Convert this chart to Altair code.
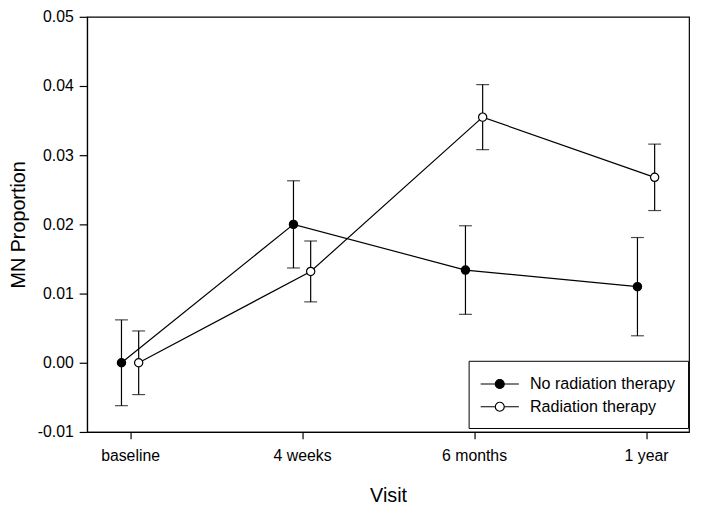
import altair as alt
import pandas as pd

visits = ["baseline", "4 weeks", "6 months", "1 year"]
series_names = ["No radiation therapy", "Radiation therapy"]
no_rt_mean = [0.0, 0.0200, 0.0134, 0.0110]
no_rt_err = [0.0062, 0.0063, 0.0064, 0.0071]
rt_mean = [0.0, 0.0132, 0.0355, 0.0268]
rt_err = [0.0046, 0.0044, 0.0047, 0.0048]
y_ticks = [-0.01, 0.0, 0.01, 0.02, 0.03, 0.04, 0.05]
dodge = [-0.05, 0.05]

rows = []
for s, (name, means, errs) in enumerate(
    [(series_names[0], no_rt_mean, no_rt_err), (series_names[1], rt_mean, rt_err)]
):
    for i, v in enumerate(visits):
        rows.append({
            "series": name,
            "visit": v,
            "x": i + dodge[s],
            "mean": means[i],
            "lo": means[i] - errs[i],
            "hi": means[i] + errs[i],
        })
df = pd.DataFrame(rows)

FONT = "Liberation Sans"
label_arr = "[" + ",".join("'" + v + "'" for v in visits) + "]"

xenc = alt.X(
    "x:Q",
    scale=alt.Scale(domain=[-0.25, 3.25], nice=False, zero=False),
    axis=alt.Axis(
        values=list(range(len(visits))),
        labelExpr=label_arr + "[round(datum.value)]",
        title="Visit",
        grid=False,
        tickSize=7,
        labelPadding=9,
        labelFontSize=16,
        titleFontSize=20,
        titleFontWeight="normal",
        titlePadding=22,
    ),
)
yscale = alt.Scale(domain=[-0.01, 0.05], nice=False, zero=False)
yaxis = alt.Axis(
    values=y_ticks,
    labelExpr="replace(format(datum.value, '.2f'), '\u2212', '-')",
    title="MN Proportion",
    grid=False,
    tickSize=8,
    labelPadding=6,
    labelFontSize=16,
    titleFontSize=20,
    titleFontWeight="normal",
    titleX=-69,
    titleY=210,
    titleAlign="center",
    titleBaseline="middle",
)

base = alt.Chart(df)

lines = base.mark_line(color="black", strokeWidth=1.2).encode(
    x=xenc,
    y=alt.Y("mean:Q", scale=yscale, axis=yaxis),
    detail="series:N",
)
rules = base.mark_rule(color="black", strokeWidth=1.2).encode(
    x="x:Q", y="lo:Q", y2="hi:Q"
)
cap_lo = base.mark_tick(orient="horizontal", color="black", size=13, thickness=1.2).encode(
    x="x:Q", y="lo:Q"
)
cap_hi = base.mark_tick(orient="horizontal", color="black", size=13, thickness=1.2).encode(
    x="x:Q", y="hi:Q"
)

sym_path = "M-2,0L-0.47,0M0.47,0L2,0M0.47,0A0.47,0.47,0,1,1,-0.47,0A0.47,0.47,0,1,1,0.47,0Z"

points = base.mark_point(
    shape="circle", filled=True, size=70, stroke="black", strokeWidth=1.2, opacity=1
).encode(
    x="x:Q",
    y="mean:Q",
    fill=alt.Fill(
        "series:N",
        scale=alt.Scale(domain=series_names, range=["black", "white"]),
        legend=alt.Legend(
            title=None,
            orient="none",
            legendX=386,
            legendY=348,
            symbolType=sym_path,
            symbolSize=373,
            symbolOffset=8,
            symbolStrokeColor="black",
            symbolStrokeWidth=1.2,
            labelFontSize=16.3,
            labelFont=FONT,
            labelOffset=20,
            rowPadding=4,
            padding=13,
            strokeColor="black",
            fillColor="white",
            cornerRadius=0,
        ),
    ),
)

chart = (
    alt.layer(lines, rules, cap_lo, cap_hi, points)
    .properties(
        width=609,
        height=420,
        autosize=alt.AutoSizeParams(type="none"),
        padding={"left": 80, "top": 6, "right": 4, "bottom": 72},
    )
    .configure_view(stroke="black", strokeWidth=1.2)
    .configure_axis(
        labelFont=FONT,
        titleFont=FONT,
        labelColor="black",
        titleColor="black",
        domainColor="black",
        tickColor="black",
        domainWidth=1.2,
        tickWidth=1.2,
    )
    .configure_legend(labelColor="black")
)

chart.save("out.html", embed_options={"renderer": "svg", "actions": False})
